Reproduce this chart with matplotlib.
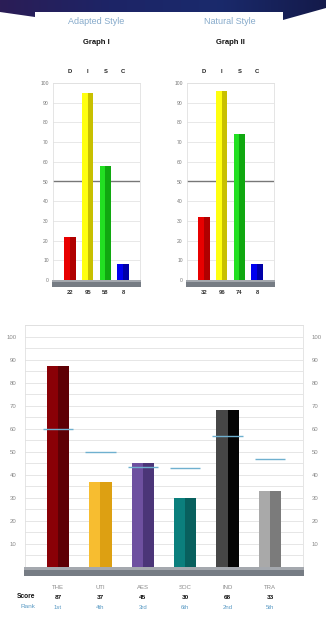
import numpy as np
import matplotlib.pyplot as plt
from matplotlib.patches import Rectangle, Polygon

plt.rcParams['font.family'] = ['Liberation Sans', 'DejaVu Sans']

# DISC profiles
disc_letters = ['D', 'I', 'S', 'C']
adapted_scores = [22, 95, 58, 8]
natural_scores = [32, 96, 74, 8]
disc_light = ['#e80000', '#ffff10', '#22e022', '#0000f0']
disc_dark = ['#b00000', '#c8c000', '#10a810', '#0000a8']

# Motivators
motiv_names = ['THE', 'UTI', 'AES', 'SOC', 'IND', 'TRA']
motiv_scores = [87, 37, 45, 30, 68, 33]
motiv_means = [60, 50, 43.5, 43, 57, 47]
motiv_ranks = ['1st', '4th', '3rd', '6th', '2nd', '5th']
motiv_light = ['#8a0006', '#f7bd30', '#6e50a0', '#0b7f7d', '#464646', '#a9a9a9']
motiv_dark = ['#5e0005', '#dda012', '#4b3578', '#08605e', '#050505', '#7b7b7b']

W, H = 326, 625
fig = plt.figure(figsize=(W / 100, H / 100), dpi=100)
fig.patch.set_facecolor('white')


def px(x, y, w, h):
    # pixel box (top-left origin) to figure fraction
    return [x / W, 1 - (y + h) / H, w / W, h / H]


# banner strip along the top
bg = fig.add_axes([0, 0, 1, 1], zorder=-5)
bg.set_xlim(0, W)
bg.set_ylim(H, 0)
bg.axis('off')
banner = Polygon([(0, 0), (W, 0), (W, 8), (283, 20), (283, 12), (35, 12),
                  (35, 17), (0, 12)], closed=True, facecolor='none', edgecolor='none')
bg.add_patch(banner)
grad = np.linspace(0, 1, 256).reshape(1, -1)
from matplotlib.colors import LinearSegmentedColormap
bcmap = LinearSegmentedColormap.from_list('bn', ['#2b1d56', '#1d2466', '#1a2a6c', '#141a4a'])
im = bg.imshow(grad, cmap=bcmap, extent=(0, W, 22, 0), aspect='auto')
im.set_clip_path(banner)

title_col = '#86aacb'
fig.text(96 / W, 1 - 22 / H, 'Adapted Style', ha='center', va='center',
         fontsize=6.5, color=title_col)
fig.text(96 / W, 1 - 42 / H, 'Graph I', ha='center', va='center',
         fontsize=5.5, fontweight='bold', color='#111111')
fig.text(230 / W, 1 - 22 / H, 'Natural Style', ha='center', va='center',
         fontsize=6.5, color=title_col)
fig.text(230 / W, 1 - 42 / H, 'Graph II', ha='center', va='center',
         fontsize=5.5, fontweight='bold', color='#111111')


def two_tone_bar(ax, x, h, w, c1, c2):
    ax.bar(x - w / 4, h, width=w / 2, color=c1, zorder=3, linewidth=0)
    ax.bar(x + w / 4, h, width=w / 2, color=c2, zorder=3, linewidth=0)


def floor(ax, x0, x1, depth):
    ax.add_patch(Rectangle((x0, -depth), x1 - x0, depth, facecolor='#767c84',
                           edgecolor='none', clip_on=False, zorder=4))
    ax.add_patch(Rectangle((x0, -depth * 0.3), x1 - x0, depth * 0.3,
                           facecolor='#a4a8ae', edgecolor='none', clip_on=False, zorder=4))


def disc_graph(left, scores):
    ax = fig.add_axes(px(left, 83, 87, 197))
    x = np.arange(len(scores))
    ax.set_xlim(-0.95, 3.95)
    ax.set_ylim(0, 100)
    for i, s in enumerate(scores):
        two_tone_bar(ax, i, s, 0.66, disc_light[i], disc_dark[i])
    ax.set_yticks(np.arange(0, 101, 10))
    ax.set_yticklabels([str(v) for v in range(0, 101, 10)], fontsize=3.6, color='#777777')
    ax.set_xticks([])
    ax.tick_params(axis='y', length=0, pad=3)
    ax.grid(axis='y', color='#e4e4e4', linewidth=0.6, zorder=0)
    ax.axhline(50, color='#777777', linewidth=1.0, zorder=2)
    for sp in ax.spines.values():
        sp.set_color('#e0e0e0')
        sp.set_linewidth(0.6)
    floor(ax, -1.0, 4.0, 3.6)
    for i, (l, s) in enumerate(zip(disc_letters, scores)):
        ax.text(i, 105.6, l, ha='center', va='center', fontsize=4.2,
                fontweight='bold', color='#222222', clip_on=False)
        ax.text(i, -6.2, str(s), ha='center', va='center', fontsize=4.2,
                fontweight='bold', color='#333333', clip_on=False)
    return ax


disc_graph(53, adapted_scores)
disc_graph(187, natural_scores)

# motivators chart
ax = fig.add_axes(px(25, 325, 278, 242))
ax.set_xlim(-0.78, 5.78)
ax.set_ylim(0, 105)
x = np.arange(len(motiv_scores))
for i, s in enumerate(motiv_scores):
    two_tone_bar(ax, i, s, 0.53, motiv_light[i], motiv_dark[i])
    ax.hlines(motiv_means[i], i - 0.36, i + 0.36, color='#6fb0cf', linewidth=1.0, zorder=5)
ax.set_yticks(np.arange(10, 101, 10))
ax.set_yticklabels([str(v) for v in range(10, 101, 10)], fontsize=4.3, color='#888888')
ax.set_yticks(np.arange(0, 106, 5), minor=True)
ax.tick_params(axis='y', which='both', length=0, pad=6, labelright=True)
ax.set_xticks([])
ax.grid(axis='y', which='both', color='#e2e2e2', linewidth=0.6, zorder=0)
for sp in ax.spines.values():
    sp.set_color('#e0e0e0')
    sp.set_linewidth(0.6)
floor(ax, -0.8, 5.8, 4.0)

for i in range(len(motiv_names)):
    ax.text(i, -9.1, motiv_names[i], ha='center', va='center', fontsize=4.3,
            color='#8a8a8a', clip_on=False)
    ax.text(i, -13.2, str(motiv_scores[i]), ha='center', va='center', fontsize=4.6,
            fontweight='bold', color='#111111', clip_on=False)
    ax.text(i, -17.5, motiv_ranks[i], ha='center', va='center', fontsize=4.3,
            color='#5a9ac4', clip_on=False)
fig.text(35 / W, 1 - 597 / H, 'Score', ha='right', va='center', fontsize=4.8,
         fontweight='bold', color='#111111')
fig.text(35 / W, 1 - 607 / H, 'Rank', ha='right', va='center', fontsize=4.6,
         color='#5a9ac4')

fig.savefig('out.png', dpi=100, facecolor='white')
